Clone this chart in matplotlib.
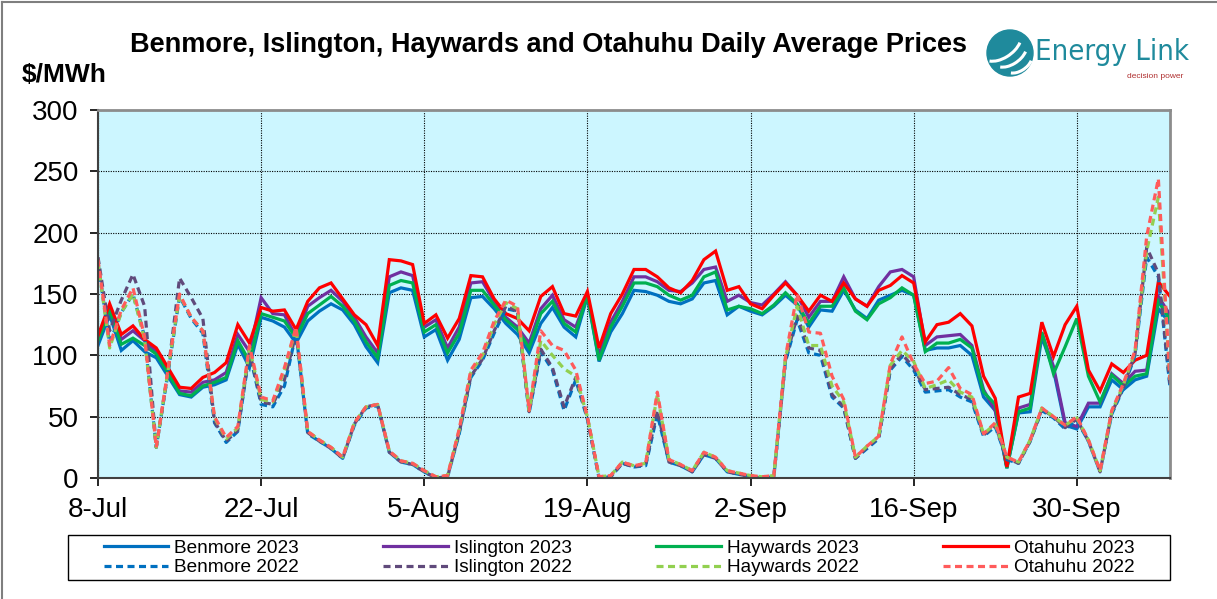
import matplotlib
matplotlib.use("Agg")
import matplotlib.pyplot as plt
import matplotlib.dates as mdates
import pandas as pd
from matplotlib.lines import Line2D
from matplotlib.patches import Circle, Arc, Rectangle

plt.rcParams["font.family"] = ["Liberation Sans", "DejaVu Sans"]

dates = pd.date_range("2023-07-08", periods=93, freq="D")

benmore_2023 = [108, 133, 104, 112, 103, 98, 83, 68, 66, 74, 76, 80, 109, 90, 131, 128, 123, 110, 128, 136,
                142, 137, 125, 107, 94, 151, 155, 153, 115, 121, 96, 113, 147, 148, 138, 126, 117, 102, 126, 139,
                123, 115, 148, 95, 119, 134, 153, 152, 149, 144, 142, 146, 159, 161, 133, 140, 136, 133, 140, 149,
                141, 123, 137, 136, 153, 137, 130, 145, 149, 153, 149, 104, 106, 106, 108, 100, 66, 55, 8, 53,
                54, 115, 88, 43, 40, 58, 58, 80, 72, 80, 83, 138, 126]
islington_2023 = [114, 139, 113, 120, 112, 103, 87, 71, 70, 78, 80, 86, 117, 103, 147, 134, 133, 115, 140, 147,
                  153, 144, 131, 115, 102, 164, 168, 165, 123, 129, 106, 123, 159, 160, 144, 131, 123, 110, 138, 149,
                  129, 123, 149, 100, 127, 144, 164, 164, 160, 153, 152, 159, 170, 172, 144, 149, 143, 141, 150, 160,
                  149, 131, 144, 144, 164, 146, 140, 156, 168, 170, 164, 108, 115, 116, 117, 108, 72, 55, 9, 57,
                  60, 118, 91, 45, 42, 61, 61, 85, 77, 87, 88, 148, 133]
haywards_2023 = [112, 137, 109, 114, 108, 101, 86, 69, 67, 75, 78, 82, 112, 95, 134, 131, 128, 114, 134, 141,
                 148, 140, 128, 111, 98, 157, 161, 159, 119, 125, 102, 118, 153, 153, 141, 129, 121, 106, 134, 144,
                 126, 119, 149, 96, 123, 140, 159, 159, 156, 149, 145, 149, 164, 168, 137, 140, 138, 134, 141, 151,
                 142, 126, 140, 140, 155, 136, 129, 142, 147, 155, 149, 103, 110, 110, 113, 106, 70, 60, 8, 54,
                 57, 119, 85, 107, 130, 83, 62, 84, 75, 83, 85, 144, 129]
otahuhu_2023 = [116, 142, 117, 124, 113, 106, 90, 74, 73, 82, 86, 94, 125, 110, 139, 136, 137, 121, 144, 155,
                159, 146, 133, 125, 108, 178, 177, 174, 126, 133, 114, 130, 165, 164, 146, 134, 130, 120, 148, 156,
                134, 132, 152, 106, 134, 150, 170, 170, 164, 155, 151, 161, 178, 185, 153, 156, 142, 138, 149, 159,
                149, 136, 149, 144, 159, 146, 140, 153, 157, 165, 159, 111, 125, 127, 134, 124, 83, 65, 9, 66,
                69, 127, 99, 125, 140, 88, 71, 93, 86, 96, 100, 160, 148]

benmore_2022 = [175, 110, 135, 150, 115, 25, 85, 148, 130, 118, 45, 29, 38, 102, 60, 58, 75, 118, 36, 30,
                24, 16, 43, 57, 59, 21, 13, 11, 5, 0, 1, 36, 82, 96, 118, 138, 136, 53, 103, 88,
                55, 80, 48, 0, 1, 12, 9, 10, 52, 13, 10, 5, 19, 16, 5, 3, 1, 0, 1, 95,
                129, 102, 100, 66, 57, 16, 24, 32, 88, 99, 88, 70, 71, 72, 66, 62, 34, 42, 15, 12,
                30, 55, 49, 40, 47, 30, 5, 52, 73, 100, 180, 164, 74]
islington_2022 = [180, 120, 145, 166, 140, 25, 86, 163, 147, 130, 46, 30, 39, 103, 62, 60, 80, 118, 37, 30,
                  24, 16, 44, 58, 60, 21, 13, 11, 5, 0, 1, 37, 83, 97, 120, 140, 136, 54, 105, 90,
                  58, 82, 49, 0, 1, 12, 9, 11, 55, 13, 10, 5, 19, 16, 5, 3, 1, 0, 1, 96,
                  132, 106, 104, 68, 58, 16, 25, 33, 89, 101, 90, 72, 73, 74, 68, 64, 35, 43, 16, 12,
                  30, 56, 50, 41, 48, 30, 5, 53, 74, 101, 188, 167, 76]
haywards_2022 = [176, 106, 135, 150, 113, 25, 87, 149, 131, 120, 49, 32, 41, 106, 64, 62, 88, 122, 38, 31,
                 25, 17, 45, 58, 60, 22, 14, 12, 6, 1, 2, 39, 86, 100, 125, 143, 138, 55, 112, 100,
                 89, 83, 50, 1, 2, 13, 10, 12, 68, 15, 11, 6, 21, 17, 6, 4, 2, 1, 2, 98,
                 140, 108, 108, 75, 62, 17, 26, 34, 92, 104, 95, 73, 76, 80, 70, 66, 36, 44, 17, 13,
                 31, 57, 50, 43, 49, 31, 6, 54, 76, 103, 185, 229, 80]
otahuhu_2022 = [178, 108, 137, 155, 115, 25, 88, 150, 131, 120, 50, 33, 42, 108, 66, 63, 90, 123, 38, 31,
                25, 17, 45, 58, 60, 22, 14, 12, 6, 1, 2, 40, 88, 102, 128, 145, 140, 55, 120, 108,
                104, 88, 50, 1, 2, 13, 10, 12, 70, 15, 11, 6, 21, 17, 6, 4, 2, 1, 2, 99,
                150, 119, 118, 83, 64, 17, 26, 34, 93, 115, 93, 77, 79, 90, 73, 68, 36, 45, 17, 13,
                31, 57, 50, 43, 50, 31, 6, 55, 77, 104, 197, 244, 80]

series_2023 = [
    ("Benmore 2023", benmore_2023, "#0070C0"),
    ("Islington 2023", islington_2023, "#7030A0"),
    ("Haywards 2023", haywards_2023, "#00B050"),
    ("Otahuhu 2023", otahuhu_2023, "#FF0000"),
]
series_2022 = [
    ("Benmore 2022", benmore_2022, "#0070C0"),
    ("Islington 2022", islington_2022, "#604A7B"),
    ("Haywards 2022", haywards_2022, "#92D050"),
    ("Otahuhu 2022", otahuhu_2022, "#FF5B5B"),
]

fig = plt.figure(figsize=(12.17, 5.99), dpi=100)
ax = fig.add_axes([98 / 1217, 121 / 599, 1072 / 1217, 368 / 599])
ax.set_facecolor("#CCF6FF")

handles = {}
for name, vals, col in series_2023:
    (h,) = ax.plot(dates, vals, color=col, lw=2.3, solid_joinstyle="miter")
    handles[name] = h
for name, vals, col in series_2022:
    (h,) = ax.plot(dates, vals, color=col, lw=2.3, dashes=(2.2, 1.4))
    handles[name] = h

ax.set_xlim(dates[0], dates[-1])
ax.set_ylim(0, 300)
ax.set_yticks(range(0, 301, 50))
ax.set_xticks(dates[::14])
ax.xaxis.set_major_formatter(mdates.DateFormatter("%-d-%b"))
ax.grid(True, color="black", linestyle=(0, (1, 1.2)), linewidth=0.8)
ax.tick_params(axis="both", labelsize=20, length=6, width=1.2, direction="out")
ax.tick_params(axis="y", pad=8)
ax.tick_params(axis="x", pad=8)
for side in ["top", "right"]:
    ax.spines[side].set_color("#8C8C8C")
    ax.spines[side].set_linewidth(2)
for side in ["left", "bottom"]:
    ax.spines[side].set_color("#404040")
    ax.spines[side].set_linewidth(1.5)

order = ["Benmore 2023", "Benmore 2022", "Islington 2023", "Islington 2022",
         "Haywards 2023", "Haywards 2022", "Otahuhu 2023", "Otahuhu 2022"]
leg = fig.legend([handles[n] for n in order], order, ncol=4, loc="center",
                 bbox_to_anchor=(619 / 1217, 1 - 558 / 599), fontsize=13.7,
                 frameon=False, borderpad=0.1,
                 labelspacing=0.12, handlelength=3.4, handletextpad=0.3,
                 columnspacing=4.45)
fig.add_artist(Rectangle((68 / 1217, 1 - 580 / 599), 1102 / 1217, 45 / 599,
                         transform=fig.transFigure, fill=False, edgecolor="black", lw=1.0))

fig.text(548 / 1217, 1 - 45 / 599, "Benmore, Islington, Haywards and Otahuhu Daily Average Prices",
         ha="center", va="center", fontsize=19.5, fontweight="bold")
fig.text(22 / 1217, 1 - 75 / 599, "$/MWh", ha="left", va="center", fontsize=19, fontweight="bold")

# logo
logo_ax = fig.add_axes([985 / 1217, 1 - 78 / 599, 50 / 1217, 50 / 599])
logo_ax.set_xlim(-1, 1)
logo_ax.set_ylim(-1, 1)
logo_ax.set_aspect("equal")
logo_ax.axis("off")
logo_ax.add_patch(Circle((0, 0), 0.92, color="#1F8A9C"))
for r, off in [(0.9, -0.35), (0.75, 0.0), (0.6, 0.35)]:
    logo_ax.add_patch(Arc((off, -off), 2 * r, 1.2 * r, angle=35, theta1=200, theta2=330,
                          color="white", lw=2.2))
fig.text(1035 / 1217, 1 - 52 / 599, "Energy Link", ha="left", va="center", fontsize=21,
         color="#1F8A9C", family=["DejaVu Sans"], stretch="condensed")
fig.text(1183 / 1217, 1 - 76 / 599, "decision power", ha="right", va="center", fontsize=6,
         color="#B03030")

# chart area border
fig.add_artist(Line2D([2 / 1217, 1.0], [1 - 2 / 599, 1 - 2 / 599], color="#7F7F7F", lw=1.5))
fig.add_artist(Line2D([2 / 1217, 2 / 1217], [0, 1 - 2 / 599], color="#7F7F7F", lw=1.5))

fig.savefig("out.png", dpi=100)
